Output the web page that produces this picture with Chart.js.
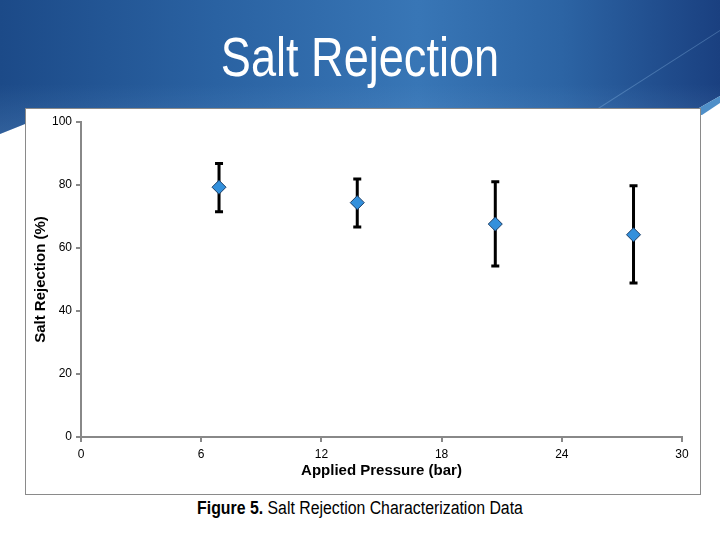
<!DOCTYPE html>
<html>
<head>
<meta charset="utf-8">
<script src="https://cdn.jsdelivr.net/npm/chart.js@4.4.1/dist/chart.umd.min.js"></script>
<style>
  body { margin: 0; width: 720px; height: 540px; overflow: hidden; background: #fff; position: relative; font-family: "Liberation Sans", Arial, sans-serif; }
  #band { position: absolute; left: 0; top: 0; width: 720px; height: 140px;
    background: linear-gradient(180deg, rgba(255,255,255,0) 0%, rgba(255,255,255,0) 60%, rgba(120,170,220,0.25) 100%),
                linear-gradient(90deg, #1c4a88 0%, #2a62a2 30%, #3876b6 58%, #2c64a4 78%, #1a4080 100%);
    clip-path: polygon(0 0, 720px 0, 720px 96px, 699px 108px, 25px 108px, 25px 124px, 0 134px); }
  #stripe { position: absolute; left: 0; top: 0; width: 720px; height: 140px; background: #4f8fc8;
    clip-path: polygon(699px 108px, 720px 96px, 720px 103px, 702px 115px, 699px 115px); }
  #diag { position: absolute; left: 0; top: 0; width: 720px; height: 140px; background: rgba(140,185,230,0.35);
    clip-path: polygon(598px 108px, 720px 30px, 720px 31px, 600px 108px); }
  #title { position: absolute; left: 0; width: 720px; top: 30px; text-align: center; color: #fff;
    font-size: 55px; line-height: 55px; transform: scaleX(0.82); transform-origin: 360px 0; }
  #box { position: absolute; left: 25px; top: 108px; width: 674px; height: 385px; border: 1px solid #8a8a8a; background: #fff; }
  #box canvas { position: absolute; left: 0; top: 0; }
  #caption { position: absolute; left: 0; width: 720px; top: 499px; text-align: center; color: #000;
    font-size: 18px; line-height: 18px; transform: scaleX(0.88); transform-origin: 360px 0; }
</style>
</head>
<body>
<div id="band"></div>
<div id="stripe"></div>
<div id="diag"></div>
<div id="title">Salt Rejection</div>
<div id="box"><canvas id="chart" width="674" height="385"></canvas></div>
<div id="caption"><b>Figure 5.</b> Salt Rejection Characterization Data</div>
<script>
// applied pressure (bar) and measured salt rejection (%)
var pressure = [6.89, 13.79, 20.68, 27.58];
var rejection = [79.3, 74.4, 67.6, 64.2];
var errPlus = [7.5, 7.5, 13.4, 15.6];
var errMinus = [7.8, 7.7, 13.3, 15.3];
var xTicks = [0, 6, 12, 18, 24, 30];
var yTicks = [0, 20, 40, 60, 80, 100];

var points = pressure.map(function (p, i) { return { x: p, y: rejection[i] }; });

// error bars drawn under the markers
var errorBars = {
  id: 'errorBars',
  beforeDatasetsDraw: function (chart) {
    var ctx = chart.ctx, x = chart.scales.x, y = chart.scales.y;
    ctx.save();
    ctx.strokeStyle = '#000';
    ctx.lineWidth = 3;
    pressure.forEach(function (p, i) {
      var px = x.getPixelForValue(p);
      var top = y.getPixelForValue(rejection[i] + errPlus[i]);
      var bot = y.getPixelForValue(rejection[i] - errMinus[i]);
      ctx.beginPath();
      ctx.moveTo(px, top); ctx.lineTo(px, bot);
      ctx.moveTo(px - 4, top); ctx.lineTo(px + 4, top);
      ctx.moveTo(px - 4, bot); ctx.lineTo(px + 4, bot);
      ctx.stroke();
    });
    ctx.restore();
  }
};

var tickFont = { family: '"Liberation Sans", Arial, sans-serif', size: 12 };
var titleFont = { family: '"Liberation Sans", Arial, sans-serif', size: 15, weight: 'bold' };

new Chart(document.getElementById('chart').getContext('2d'), {
  type: 'scatter',
  data: {
    datasets: [{
      data: points,
      pointStyle: 'rectRot',
      pointRadius: 7,
      pointHoverRadius: 7,
      backgroundColor: '#3390dc',
      borderColor: '#1b3d66',
      borderWidth: 1
    }]
  },
  options: {
    responsive: false,
    animation: false,
    events: [],
    layout: { padding: { left: 0, top: 13, right: 18, bottom: 0 } },
    plugins: { legend: { display: false }, tooltip: { enabled: false } },
    scales: {
      x: {
        type: 'linear',
        min: 0, max: 30,
        afterBuildTicks: function (s) { s.ticks = xTicks.map(function (v) { return { value: v }; }); },
        afterFit: function (s) { s.height = 57; },
        ticks: { color: '#000', font: tickFont, padding: 5 },
        grid: { drawOnChartArea: false, drawTicks: true, tickLength: 5, color: '#888', lineWidth: 2 },
        border: { color: '#888', width: 2 },
        title: { display: true, text: 'Applied Pressure (bar)', color: '#000', font: titleFont, padding: { top: 0, bottom: 14 } }
      },
      y: {
        min: 0, max: 100,
        afterBuildTicks: function (s) { s.ticks = yTicks.map(function (v) { return { value: v }; }); },
        afterFit: function (s) { s.width = 55; },
        ticks: { color: '#000', font: tickFont, padding: 4 },
        grid: { drawOnChartArea: false, drawTicks: true, tickLength: 5, color: '#888', lineWidth: 2 },
        border: { color: '#888', width: 2 },
        title: { display: true, text: 'Salt Rejection (%)', color: '#000', font: titleFont, padding: { top: 6, bottom: 0 } }
      }
    }
  },
  plugins: [errorBars]
});
</script>
</body>
</html>
